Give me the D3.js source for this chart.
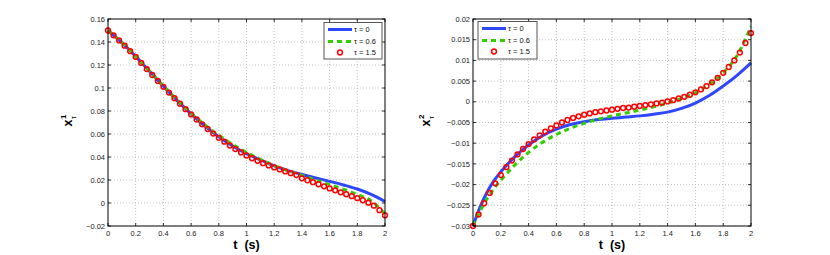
<!DOCTYPE html>
<html>
<head>
<meta charset="utf-8">
<script src="https://cdn.jsdelivr.net/npm/d3@7"></script>
<style>
body { margin: 0; background: #fff; }
svg { display: block; }
text { font-family: "Liberation Sans", Arial, sans-serif; }
</style>
</head>
<body>
<svg id="fig" width="830" height="255"></svg>
<script>
// x ticks shared by both panels
var xTicks = [0, 0.2, 0.4, 0.6, 0.8, 1, 1.2, 1.4, 1.6, 1.8, 2];
var xTickLabels = ['0', '0.2', '0.4', '0.6', '0.8', '1', '1.2', '1.4', '1.6', '1.8', '2'];

// left panel y ticks
var y1Ticks = [0.16, 0.14, 0.12, 0.1, 0.08, 0.06, 0.04, 0.02, 0, -0.02];
var y1TickLabels = ['0.16', '0.14', '0.12', '0.1', '0.08', '0.06', '0.04', '0.02', '0', '\u22120.02'];

// right panel y ticks
var y2Ticks = [0.02, 0.015, 0.01, 0.005, 0, -0.005, -0.01, -0.015, -0.02, -0.025, -0.03];
var y2TickLabels = ['0.02', '0.015', '0.01', '0.005', '0', '\u22120.005', '\u22120.01', '\u22120.015', '\u22120.02', '\u22120.025', '\u22120.03'];

var legendLabels = ['\u03c4 = 0', '\u03c4 = 0.6', '\u03c4 = 1.5'];

// sample times of the solid / dashed curves
var tLine = [0, 0.05, 0.1, 0.15, 0.2, 0.3, 0.4, 0.5, 0.6, 0.7, 0.8, 0.9, 1, 1.1, 1.2, 1.3, 1.4, 1.5, 1.6, 1.7, 1.8, 1.9, 2];

// sample times of the circle markers
var tMark = [0, 0.04, 0.08, 0.12, 0.16, 0.2, 0.24, 0.28, 0.32, 0.36, 0.4, 0.44, 0.48, 0.52, 0.56, 0.6,
    0.64, 0.68, 0.72, 0.76, 0.8, 0.84, 0.88, 0.92, 0.96, 1, 1.04, 1.08, 1.12, 1.16, 1.2, 1.24, 1.28,
    1.32, 1.36, 1.4, 1.44, 1.48, 1.52, 1.56, 1.6, 1.64, 1.68, 1.72, 1.76, 1.8, 1.84, 1.88, 1.92, 1.96, 2];

// x^1 : tau = 0 (blue), tau = 0.6 (green)
var x1Tau0 = [0.150, 0.1448, 0.1395, 0.1337, 0.1275, 0.1145, 0.1015, 0.0890, 0.0775, 0.0668, 0.0575,
    0.0495, 0.0428, 0.0375, 0.0322, 0.0282, 0.0248, 0.0218, 0.0188, 0.0157, 0.0122, 0.0075, 0.0013];
var x1Tau06 = [0.150, 0.1448, 0.1395, 0.1337, 0.1275, 0.1145, 0.1017, 0.0895, 0.0782, 0.0678, 0.0590,
    0.0510, 0.0440, 0.0380, 0.0325, 0.0280, 0.0240, 0.0200, 0.0160, 0.0120, 0.0075, 0.0020, -0.0095];
// x^1 : tau = 1.5 (red circles)
var x1Tau15 = [0.1500, 0.1458, 0.1414, 0.1368, 0.1320, 0.1270, 0.1218, 0.1165, 0.1113, 0.1061, 0.1010,
    0.0960, 0.0911, 0.0863, 0.0816, 0.0770, 0.0726, 0.0684, 0.0643, 0.0604, 0.0567, 0.0533, 0.0500,
    0.0469, 0.0440, 0.0413, 0.0389, 0.0367, 0.0346, 0.0327, 0.0309, 0.0292, 0.0275, 0.0259, 0.0243,
    0.0215, 0.0198, 0.0181, 0.0163, 0.0145, 0.0127, 0.0110, 0.0093, 0.0076, 0.0059, 0.0042, 0.0024,
    0.0003, -0.0023, -0.0062, -0.0107];

// x^2 : tau = 0 (blue), tau = 0.6 (green)
var x2Tau0 = [-0.0300, -0.0255, -0.0219, -0.0191, -0.0169, -0.0133, -0.0104, -0.0082, -0.0066, -0.0055,
    -0.0048, -0.0043, -0.0040, -0.0037, -0.0034, -0.0030, -0.0025, -0.0016, -0.0003, 0.0015, 0.0038,
    0.0064, 0.0094];
var x2Tau06 = [-0.0300, -0.0265, -0.0235, -0.0210, -0.0190, -0.0153, -0.0122, -0.0098, -0.0079, -0.0064,
    -0.0052, -0.0042, -0.0034, -0.0027, -0.0020, -0.0012, -0.0003, 0.0008, 0.0022, 0.0042, 0.0070,
    0.0112, 0.0182];
// x^2 : tau = 1.5 (red circles)
var x2Tau15 = [-0.0300, -0.0272, -0.0245, -0.0220, -0.0197, -0.0177, -0.0158, -0.0142, -0.0127, -0.0114,
    -0.0102, -0.0091, -0.0081, -0.0072, -0.0064, -0.0057, -0.0050, -0.0044, -0.0039, -0.0035, -0.0031,
    -0.0028, -0.0025, -0.0023, -0.0021, -0.0019, -0.0017, -0.0015, -0.0014, -0.0012, -0.0010, -0.0008,
    -0.0006, -0.0004, -0.0002, 0.0001, 0.0004, 0.0008, 0.0012, 0.0017, 0.0023, 0.0030, 0.0038, 0.0047,
    0.0058, 0.0070, 0.0084, 0.0100, 0.0119, 0.0142, 0.0166];

var svg = d3.select('#fig');

var BLU = '#2f46ff';
var GRN = '#33cc00';
var RED = '#ff0000';

//draws one panel (axes box, grid, curves, legend)
function disegnaPannello(p) {
    var x = d3.scaleLinear().domain([0, 2]).range([p.left, p.right]);
    var y = d3.scaleLinear().domain(p.yDomain).range([p.bottom, p.top]);
    var g = svg.append('g');

    // dotted grid
    g.selectAll('.gx').data(xTicks.slice(1, -1)).enter().append('line')
        .attr('x1', function(d) { return x(d); }).attr('x2', function(d) { return x(d); })
        .attr('y1', p.top).attr('y2', p.bottom)
        .attr('stroke', '#b4b4b4').attr('stroke-width', 0.8).attr('stroke-dasharray', '1,2');
    g.selectAll('.gy').data(p.yTicks.slice(1, -1)).enter().append('line')
        .attr('y1', function(d) { return y(d); }).attr('y2', function(d) { return y(d); })
        .attr('x1', p.left).attr('x2', p.right)
        .attr('stroke', '#b4b4b4').attr('stroke-width', 0.8).attr('stroke-dasharray', '1,2');

    var linea = d3.line()
        .x(function(d, i) { return x(tLine[i]); })
        .y(function(d) { return y(d); })
        .curve(d3.curveMonotoneX);

    g.append('path').datum(p.blu).attr('d', linea)
        .attr('fill', 'none').attr('stroke', BLU).attr('stroke-width', 3);
    g.append('path').datum(p.verde).attr('d', linea)
        .attr('fill', 'none').attr('stroke', GRN).attr('stroke-width', 3).attr('stroke-dasharray', '5,4');

    g.selectAll('.cerchio').data(p.rosso).enter().append('circle')
        .attr('cx', function(d, i) { return x(tMark[i]); })
        .attr('cy', function(d) { return y(d); })
        .attr('r', 2.4)
        .attr('fill', 'none').attr('stroke', RED).attr('stroke-width', 1.5);

    // axes box
    g.append('rect')
        .attr('x', p.left).attr('y', p.top)
        .attr('width', p.right - p.left).attr('height', p.bottom - p.top)
        .attr('fill', 'none').attr('stroke', '#000').attr('stroke-width', 1);

    // inward ticks on all sides
    var tl = 3;
    xTicks.forEach(function(d) {
        g.append('line').attr('x1', x(d)).attr('x2', x(d)).attr('y1', p.bottom).attr('y2', p.bottom - tl)
            .attr('stroke', '#000').attr('stroke-width', 0.8);
        g.append('line').attr('x1', x(d)).attr('x2', x(d)).attr('y1', p.top).attr('y2', p.top + tl)
            .attr('stroke', '#000').attr('stroke-width', 0.8);
    });
    p.yTicks.forEach(function(d) {
        g.append('line').attr('y1', y(d)).attr('y2', y(d)).attr('x1', p.left).attr('x2', p.left + tl)
            .attr('stroke', '#000').attr('stroke-width', 0.8);
        g.append('line').attr('y1', y(d)).attr('y2', y(d)).attr('x1', p.right).attr('x2', p.right - tl)
            .attr('stroke', '#000').attr('stroke-width', 0.8);
    });

    // tick labels
    g.selectAll('.xl').data(xTicks).enter().append('text')
        .attr('x', function(d) { return x(d); })
        .attr('y', p.bottom + 10)
        .attr('text-anchor', 'middle')
        .style('font-size', '7.5px').attr('fill', '#222')
        .text(function(d, i) { return xTickLabels[i]; });
    g.selectAll('.yl').data(p.yTicks).enter().append('text')
        .attr('x', p.left - 3)
        .attr('y', function(d) { return y(d); })
        .attr('dy', '0.35em')
        .attr('text-anchor', 'end')
        .style('font-size', '7.5px').attr('fill', '#222')
        .text(function(d, i) { return p.yTickLabels[i]; });

    // x label
    g.append('text')
        .attr('x', (p.left + p.right) / 2).attr('y', 249)
        .attr('text-anchor', 'middle')
        .style('font-size', '12.5px').style('font-weight', 'bold')
        .attr('xml:space', 'preserve')
        .text('t  (s)');

    // y label x^k_tau
    var yl = g.append('text')
        .attr('transform', 'translate(' + p.yLabelX + ',' + ((p.top + p.bottom) / 2 + 4) + ') rotate(-90)')
        .style('font-weight', 'bold');
    yl.append('tspan').style('font-size', '12.5px').text('x');
    yl.append('tspan').attr('dy', -6).attr('dx', 0.5).style('font-size', '8px').text(p.apice);
    yl.append('tspan').attr('dy', 10).attr('dx', -4.5).style('font-size', '7px').style('font-weight', 'normal').text('\u03c4');

    // legend
    var L = p.legend;
    g.append('rect')
        .attr('x', L.x).attr('y', L.y).attr('width', L.w).attr('height', L.h)
        .attr('fill', '#fff').attr('stroke', '#555').attr('stroke-width', 1);
    var righe = [L.y + 7, L.y + 19, L.y + 30];
    g.append('line').attr('x1', L.x + 4).attr('x2', L.x + 28).attr('y1', righe[0]).attr('y2', righe[0])
        .attr('stroke', BLU).attr('stroke-width', 3);
    g.append('line').attr('x1', L.x + 4).attr('x2', L.x + 28).attr('y1', righe[1]).attr('y2', righe[1])
        .attr('stroke', GRN).attr('stroke-width', 3).attr('stroke-dasharray', '5,4');
    g.append('circle').attr('cx', L.x + 16).attr('cy', righe[2]).attr('r', 2.4)
        .attr('fill', 'none').attr('stroke', RED).attr('stroke-width', 1.5);
    legendLabels.forEach(function(s, i) {
        g.append('text').attr('x', L.x + 30).attr('y', righe[i]).attr('dy', '0.35em')
            .style('font-size', '7.5px').attr('fill', '#111').text(s);
    });
}

disegnaPannello({
    left: 108, right: 385, top: 19, bottom: 226,
    yDomain: [-0.02, 0.16], yTicks: y1Ticks, yTickLabels: y1TickLabels,
    blu: x1Tau0, verde: x1Tau06, rosso: x1Tau15,
    yLabelX: 72, apice: '1',
    legend: { x: 324, y: 22.5, w: 58, h: 36.5 }
});

disegnaPannello({
    left: 473, right: 751, top: 19, bottom: 226,
    yDomain: [-0.03, 0.02], yTicks: y2Ticks, yTickLabels: y2TickLabels,
    blu: x2Tau0, verde: x2Tau06, rosso: x2Tau15,
    yLabelX: 430, apice: '2',
    legend: { x: 478, y: 21.5, w: 59, h: 37.5 }
});
</script>
</body>
</html>
